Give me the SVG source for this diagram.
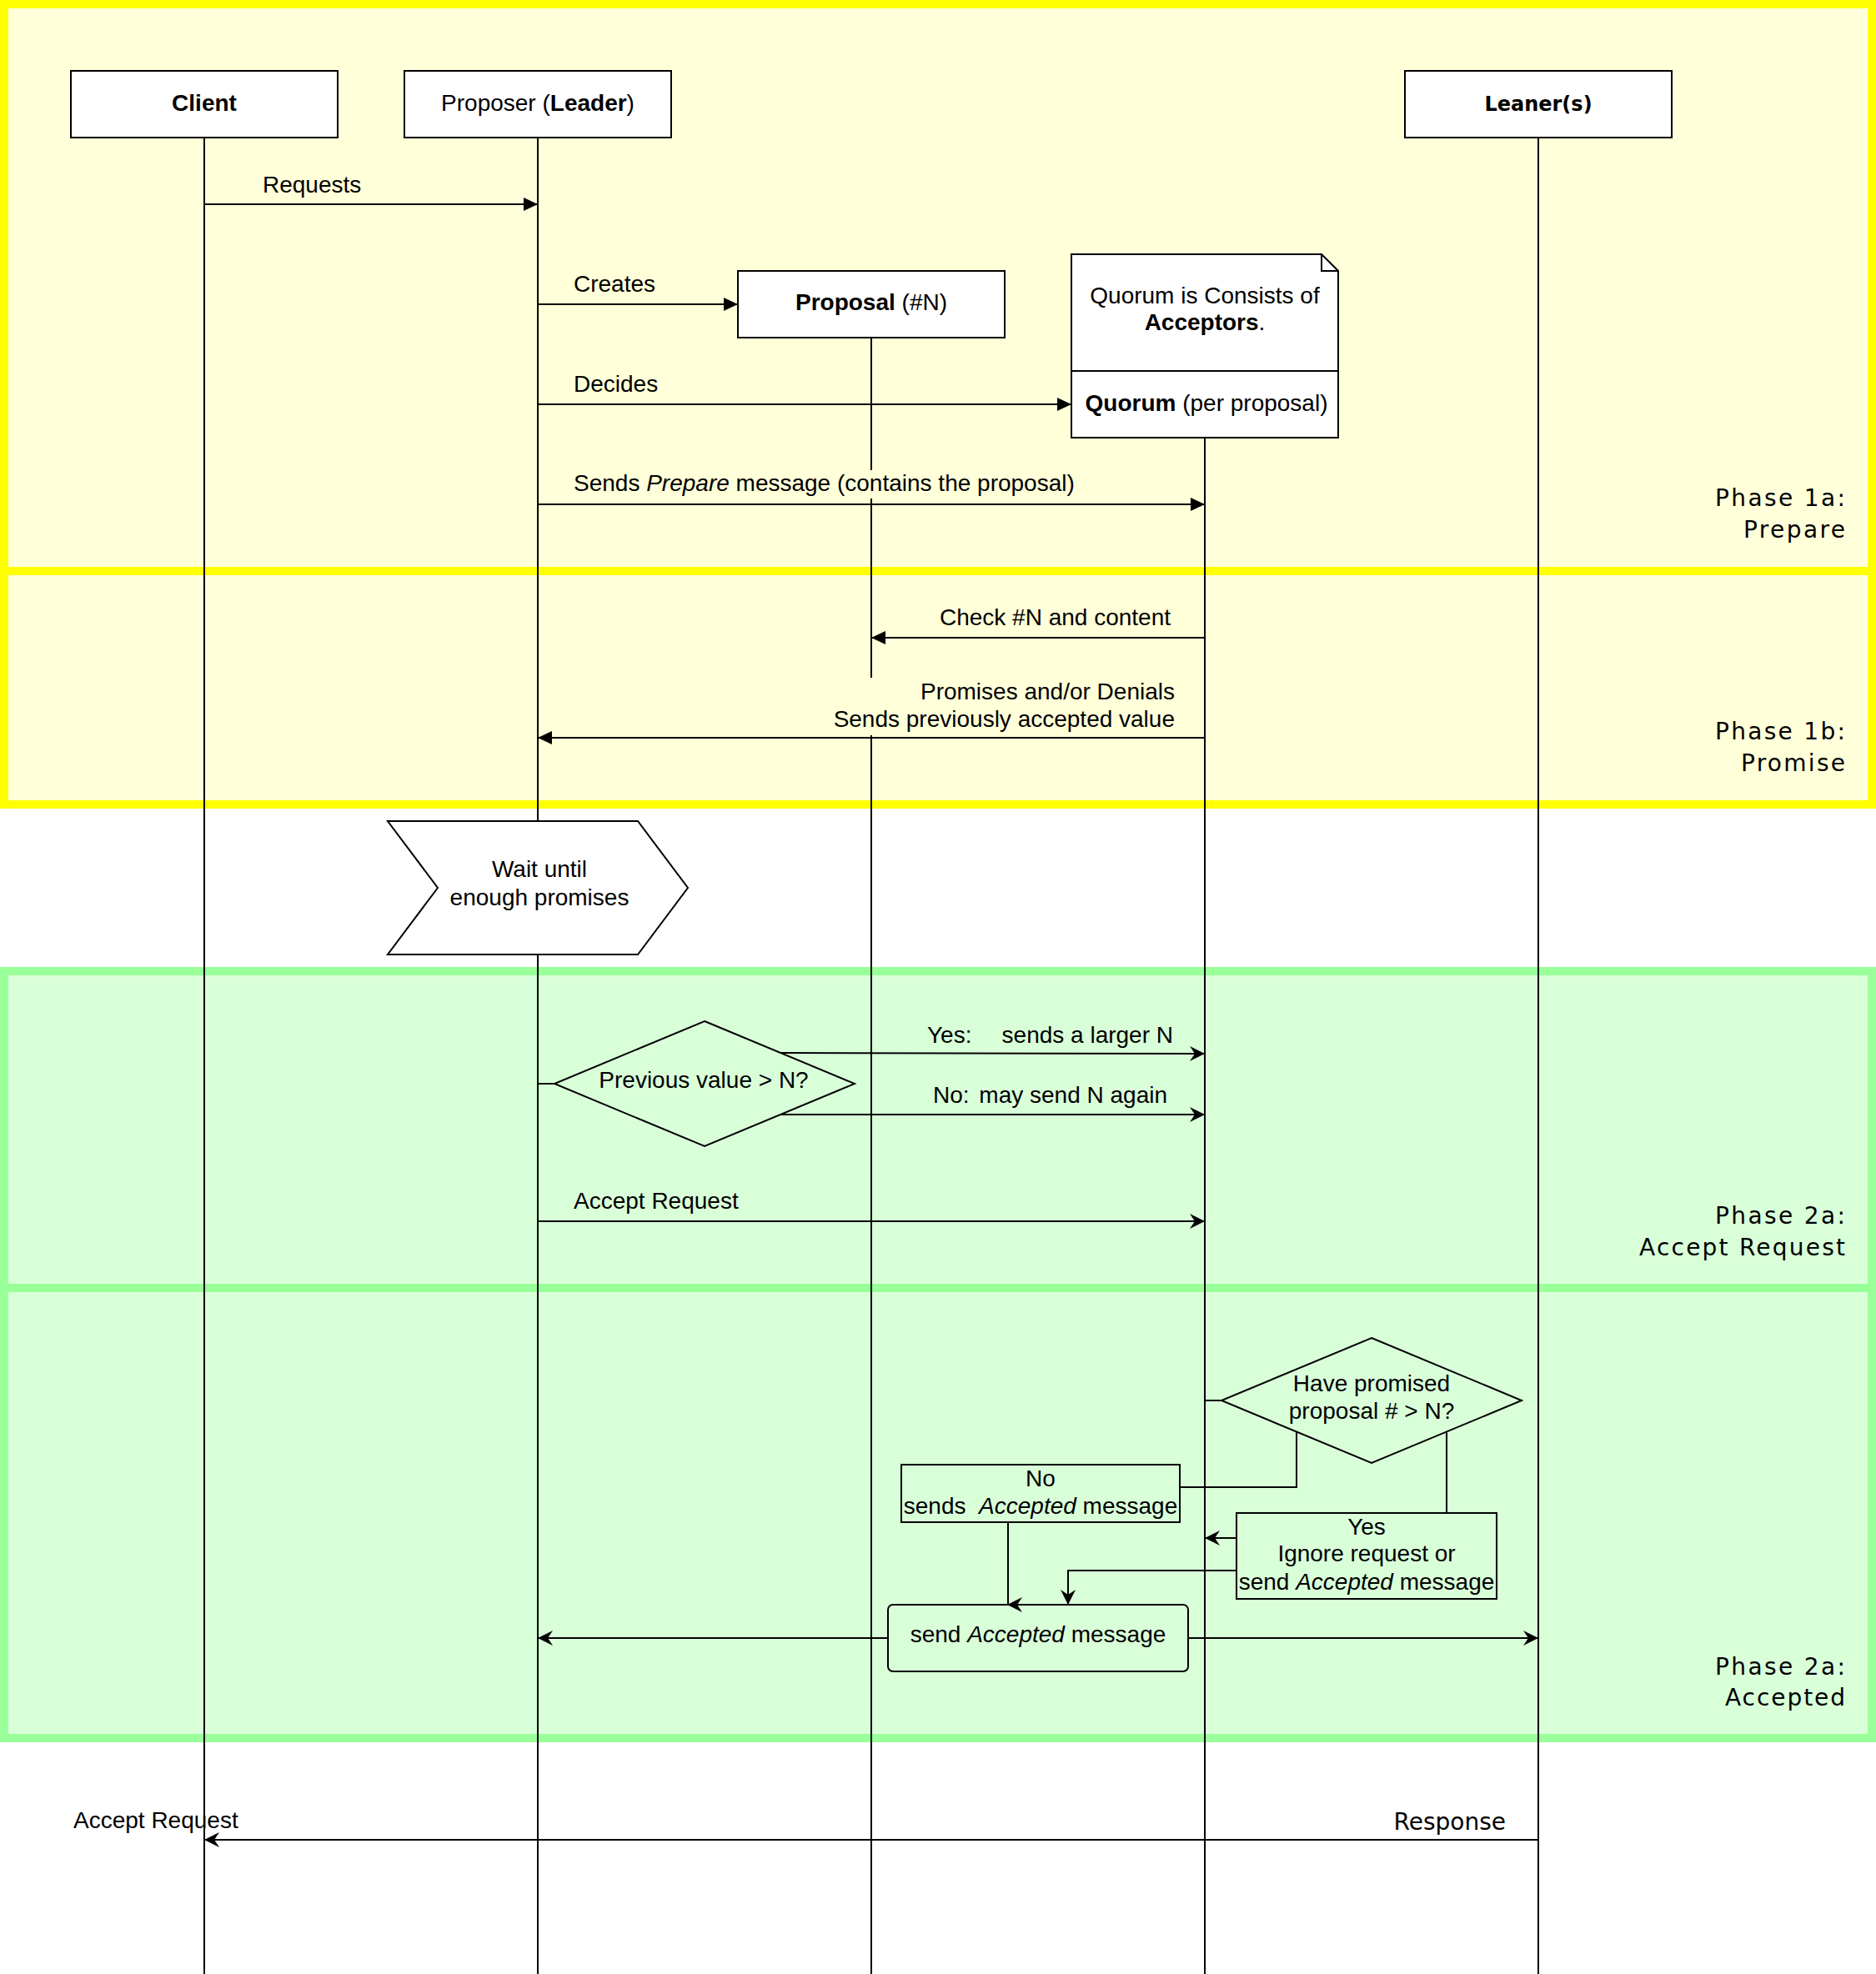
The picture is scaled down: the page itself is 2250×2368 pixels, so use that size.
<svg xmlns="http://www.w3.org/2000/svg" width="2250" height="2368" viewBox="0 0 2250 2368">
<style>
.t{font-family:"Liberation Sans",Arial,sans-serif;font-size:28px;fill:#000}
.v{font-family:"DejaVu Sans",Verdana,sans-serif;font-size:28px;fill:#000}
.b{font-weight:bold}
.i{font-style:italic}
.c{text-anchor:middle}
.e{text-anchor:end}
.box{fill:#fff;stroke:#000;stroke-width:2}
.shp{fill:none;stroke:#000;stroke-width:2}
.ln{fill:none;stroke:#000;stroke-width:2}
.life{stroke:#000;stroke-width:2}
.laneY{fill:#FFFFD9;stroke:#FFFF00;stroke-width:10}
.laneG{fill:#D9FFD9;stroke:#99FF99;stroke-width:10}
</style>
<defs>
<marker id="block" markerUnits="userSpaceOnUse" markerWidth="20" markerHeight="20" viewBox="-19 -10 20 20" refX="0" refY="0" orient="auto"><path d="M0,0 L-17,-8 L-17,8 Z" fill="#000"/></marker>
<marker id="classic" markerUnits="userSpaceOnUse" markerWidth="22" markerHeight="22" viewBox="-20 -11 22 22" refX="0" refY="0" orient="auto"><path d="M0,0 L-18,-9 L-12,0 L-18,9 Z" fill="#000"/></marker>
<clipPath id="clipPrep"><rect x="680" y="555" width="614" height="45"/></clipPath>
</defs>

<g id="lanes">
<rect id="phase1a" class="laneY" x="5" y="5" width="2240" height="680"/>
<rect id="phase1b" class="laneY" x="5" y="685" width="2240" height="280"/>
<rect id="phase2a-accept" class="laneG" x="5" y="1165" width="2240" height="380"/>
<rect id="phase2a-accepted" class="laneG" x="5" y="1545" width="2240" height="540"/>
</g>

<g id="lifelines">
<line class="life" x1="245" y1="165" x2="245" y2="2368"/>
<line class="life" x1="645" y1="165" x2="645" y2="2368"/>
<line class="life" x1="1045" y1="405" x2="1045" y2="2368"/>
<line class="life" x1="1445" y1="525" x2="1445" y2="2368"/>
<line class="life" x1="1845" y1="165" x2="1845" y2="2368"/>
</g>

<g id="label-backgrounds">
<rect x="685" y="564" width="609" height="34" fill="#FFFFD9"/>
<rect x="990" y="813" width="422" height="69" fill="#FFFFD9"/>
</g>

<g id="connectors">
<line class="ln" x1="245" y1="245" x2="645" y2="245" marker-end="url(#block)"/>
<line class="ln" x1="645" y1="365" x2="885" y2="365" marker-end="url(#block)"/>
<line class="ln" x1="645" y1="485" x2="1285" y2="485" marker-end="url(#block)"/>
<line class="ln" x1="645" y1="605" x2="1445" y2="605" marker-end="url(#block)"/>
<line class="ln" x1="1445" y1="765" x2="1045" y2="765" marker-end="url(#block)"/>
<line class="ln" x1="1445" y1="885" x2="645" y2="885" marker-end="url(#block)"/>
<line class="ln" x1="645" y1="1300" x2="665" y2="1300"/>
<line class="ln" x1="937" y1="1263" x2="1445" y2="1264" marker-end="url(#classic)"/>
<line class="ln" x1="937" y1="1337" x2="1445" y2="1337" marker-end="url(#classic)"/>
<line class="ln" x1="645" y1="1465" x2="1445" y2="1465" marker-end="url(#classic)"/>
<line class="ln" x1="1445" y1="1680" x2="1465" y2="1680"/>
<path class="ln" d="M1555,1718 V1784 H1415"/>
<path class="ln" d="M1735,1718 V1815"/>
<line class="ln" x1="1483" y1="1845" x2="1445" y2="1845" marker-end="url(#classic)"/>
<path class="ln" d="M1483,1884 H1281 V1925" marker-end="url(#classic)"/>
<path class="ln" d="M1209,1826 V1925 H1208" marker-end="url(#classic)"/>
<line class="ln" x1="1065" y1="1965" x2="645" y2="1965" marker-end="url(#classic)"/>
<line class="ln" x1="1425" y1="1965" x2="1845" y2="1965" marker-end="url(#classic)"/>
<line class="ln" x1="1845" y1="2207" x2="245" y2="2207" marker-end="url(#classic)"/>
</g>

<g id="connector-labels">
<text class="t" x="315" y="231">Requests</text>
<text class="t" x="688" y="350">Creates</text>
<text class="t" x="688" y="470">Decides</text>
<text class="t" x="688" y="589" clip-path="url(#clipPrep)">Sends <tspan class="i">Prepare</tspan> message (contains the proposal)</text>
<text class="t e" x="1404" y="750">Check #N and content</text>
<text class="t e" x="1409" y="839">Promises and/or Denials</text>
<text class="t e" x="1409" y="872">Sends previously accepted value</text>
<text class="t" x="1112" y="1251">Yes:</text>
<text class="t e" x="1407" y="1251">sends a larger N</text>
<text class="t" x="1119" y="1323">No:</text>
<text class="t e" x="1400" y="1323">may send N again</text>
<text class="t" x="688" y="1450">Accept Request</text>
<text class="t" x="88" y="2193">Accept Request</text>
<text class="v e" x="1806" y="2195">Response</text>
</g>

<g id="client">
<rect class="box" x="85" y="85" width="320" height="80"/>
<text class="t b c" x="245" y="133">Client</text>
</g>
<g id="proposer">
<rect class="box" x="485" y="85" width="320" height="80"/>
<text class="t c" x="645" y="133">Proposer (<tspan class="b">Leader</tspan>)</text>
</g>
<g id="leaner">
<rect class="box" x="1685" y="85" width="320" height="80"/>
<text class="v b c" x="1845" y="133" style="font-size:24px">Leaner(s)</text>
</g>
<g id="proposal">
<rect class="box" x="885" y="325" width="320" height="80"/>
<text class="t c" x="1045" y="372"><tspan class="b">Proposal</tspan> (#N)</text>
</g>
<g id="quorum-note">
<path class="box" d="M1285,305 H1585 L1605,325 V445 H1285 Z"/>
<path class="ln" d="M1585,305 V325 H1605" stroke-width="1"/>
<text class="t c" x="1445" y="364">Quorum is Consists of</text>
<text class="t c" x="1445" y="396"><tspan class="b">Acceptors</tspan>.</text>
</g>
<g id="quorum">
<rect class="box" x="1285" y="445" width="320" height="80"/>
<text class="t c" x="1447" y="493"><tspan class="b">Quorum</tspan> (per proposal)</text>
</g>
<g id="wait">
<path class="box" d="M465,985 H765 L825,1065 L765,1145 H465 L525,1065 Z"/>
<text class="t c" x="647" y="1052">Wait until</text>
<text class="t c" x="647" y="1086">enough promises</text>
</g>
<g id="previous-value">
<path class="shp" d="M845,1225 L1025,1300 L845,1375 L665,1300 Z"/>
<text class="t c" x="844" y="1305">Previous value &gt; N?</text>
</g>
<g id="have-promised">
<path class="shp" d="M1645,1605 L1825,1680 L1645,1755 L1465,1680 Z"/>
<text class="t c" x="1645" y="1669">Have promised</text>
<text class="t c" x="1645" y="1702">proposal # &gt; N?</text>
</g>
<g id="no-box">
<rect class="shp" x="1081" y="1757" width="334" height="69"/>
<text class="t c" x="1248" y="1783">No</text>
<text class="t c" x="1248" y="1816" xml:space="preserve">sends  <tspan class="i">Accepted</tspan> message</text>
</g>
<g id="yes-box">
<rect class="shp" x="1483" y="1815" width="312" height="103"/>
<text class="t c" x="1639" y="1841">Yes</text>
<text class="t c" x="1639" y="1873">Ignore request or</text>
<text class="t c" x="1639" y="1907">send <tspan class="i">Accepted</tspan> message</text>
</g>
<g id="send-accepted">
<rect class="shp" x="1065" y="1925" width="360" height="80" rx="6" ry="6"/>
<text class="t c" x="1245" y="1970">send <tspan class="i">Accepted</tspan> message</text>
</g>

<g id="phase-labels">
<text class="v e" x="2213" y="607" textLength="156" lengthAdjust="spacing">Phase 1a:</text>
<text class="v e" x="2213" y="645" textLength="122" lengthAdjust="spacing">Prepare</text>
<text class="v e" x="2213" y="887" textLength="156" lengthAdjust="spacing">Phase 1b:</text>
<text class="v e" x="2213" y="925" textLength="125" lengthAdjust="spacing">Promise</text>
<text class="v e" x="2213" y="1468" textLength="156" lengthAdjust="spacing">Phase 2a:</text>
<text class="v e" x="2213" y="1506" textLength="247" lengthAdjust="spacing">Accept Request</text>
<text class="v e" x="2213" y="2009" textLength="156" lengthAdjust="spacing">Phase 2a:</text>
<text class="v e" x="2213" y="2046" textLength="144" lengthAdjust="spacing">Accepted</text>
</g>
</svg>
